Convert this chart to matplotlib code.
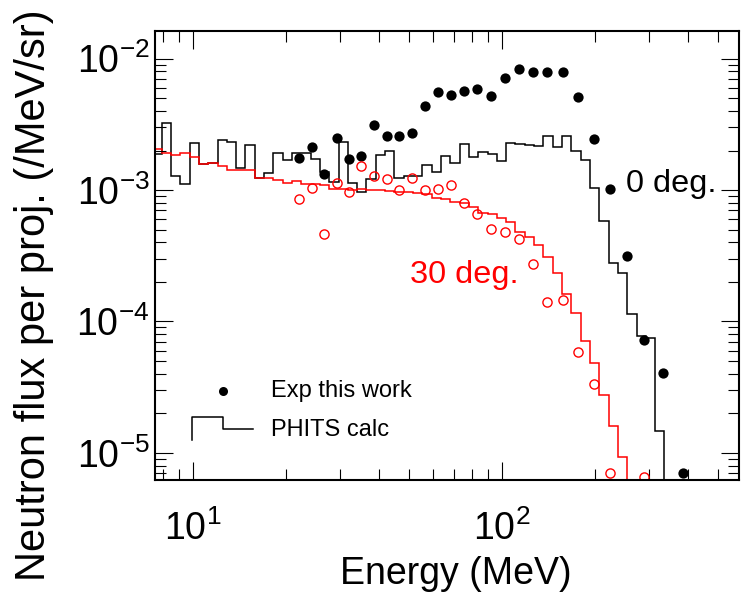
import numpy as np
import matplotlib
matplotlib.use("Agg")
import matplotlib.pyplot as plt
from matplotlib.ticker import LogLocator, NullFormatter

plt.rcParams['font.family'] = ['Liberation Sans', 'DejaVu Sans']
plt.rcParams['mathtext.fontset'] = 'custom'
plt.rcParams['mathtext.rm'] = 'Liberation Sans'
plt.rcParams['mathtext.it'] = 'Liberation Sans:italic'
plt.rcParams['mathtext.bf'] = 'Liberation Sans:bold'

# PHITS histogram bins (MeV), log spaced
bin_first = 7.389
bin_last = 335.54
n_edges = 56
hist_edges = np.geomspace(bin_first, bin_last, n_edges)

# PHITS calc, 0 deg (one value per bin)
phits_0deg = [
    1.883e-3, 3.258e-3, 1.291e-3, 1.103e-3, 2.271e-3, 1.571e-3, 1.600e-3, 2.406e-3,
    2.311e-3, 1.465e-3, 2.216e-3, 1.229e-3, 1.356e-3, 1.926e-3, 1.703e-3, 1.916e-3,
    1.910e-3, 1.715e-3, 1.373e-3, 1.152e-3, 2.323e-3, 1.142e-3, 9.67e-4, 1.208e-3,
    1.850e-3, 1.967e-3, 1.229e-3, 1.269e-3, 1.280e-3, 1.539e-3, 1.361e-3, 1.824e-3,
    1.616e-3, 2.223e-3, 1.786e-3, 1.943e-3, 1.866e-3, 1.651e-3, 2.283e-3, 2.223e-3,
    2.185e-3, 2.166e-3, 2.580e-3, 2.110e-3, 2.580e-3, 1.967e-3, 1.694e-3, 1.038e-3,
    5.77e-4, 2.787e-4, 2.339e-4, 1.147e-4, 7.76e-5, 7.55e-5, 1.468e-5,
]

# PHITS calc, 30 deg
phits_30deg = [
    2.037e-3, 1.916e-3, 1.834e-3, 1.899e-3, 1.786e-3, 1.571e-3, 1.608e-3, 1.531e-3,
    1.415e-3, 1.415e-3, 1.410e-3, 1.225e-3, 1.236e-3, 1.183e-3, 1.126e-3, 1.167e-3,
    1.122e-3, 1.122e-3, 1.093e-3, 1.011e-3, 1.019e-3, 1.002e-3, 1.011e-3, 9.93e-4,
    1.002e-3, 9.84e-4, 9.71e-4, 9.59e-4, 9.50e-4, 9.34e-4, 8.71e-4, 8.48e-4,
    8.16e-4, 7.91e-4, 7.37e-4, 6.69e-4, 6.52e-4, 6.13e-4, 5.72e-4, 4.80e-4,
    4.42e-4, 3.82e-4, 3.10e-4, 2.34e-4, 1.62e-4, 1.165e-4, 7.07e-5, 4.81e-5,
    2.76e-5, 1.60e-5, 9.26e-6,
]

# Exp this work, 0 deg
exp_energy_0 = [
    22.08, 24.22, 26.54, 29.18, 31.97, 35.10, 38.53, 42.36, 46.49, 51.13,
    56.42, 62.07, 68.39, 75.51, 83.31, 92.13, 102.4, 113.7, 126.3, 140.3,
    157.2, 176.6, 198.5, 223.7, 253.3, 288.8, 332.7, 384.5,
]
exp_flux_0 = [
    1.746e-3, 2.117e-3, 1.319e-3, 2.478e-3, 1.734e-3, 1.802e-3, 3.101e-3, 2.580e-3,
    2.580e-3, 2.720e-3, 4.389e-3, 5.597e-3, 5.292e-3, 5.696e-3, 5.899e-3, 5.200e-3,
    7.166e-3, 8.348e-3, 7.879e-3, 7.879e-3, 7.963e-3, 5.084e-3, 2.435e-3, 1.014e-3,
    3.150e-4, 7.23e-5, 4.08e-5, 6.99e-6,
]

# Exp this work, 30 deg
exp_energy_30 = [
    22.08, 24.22, 26.54, 29.18, 31.97, 35.10, 38.53, 42.36, 46.49, 51.13,
    56.42, 62.07, 68.39, 75.51, 83.31, 92.13, 102.4, 113.7, 126.3, 140.3,
    157.2, 176.6, 198.5, 223.7, 288.8,
]
exp_flux_30 = [
    8.56e-4, 1.032e-3, 4.61e-4, 1.138e-3, 9.72e-4, 1.526e-3, 1.285e-3, 1.208e-3,
    1.000e-3, 1.229e-3, 1.000e-3, 1.011e-3, 1.097e-3, 7.98e-4, 6.58e-4, 5.08e-4,
    4.81e-4, 4.24e-4, 2.74e-4, 1.40e-4, 1.457e-4, 5.83e-5, 3.34e-5, 6.99e-6,
    6.59e-6,
]

fig = plt.figure(figsize=(7.49, 5.97), dpi=100)
ax = fig.add_axes([0.2069, 0.196, 0.7804, 0.7526])

ax.stairs(phits_0deg, hist_edges, baseline=1e-8, color='black', lw=1.1)
ax.stairs(phits_30deg, hist_edges[:len(phits_30deg) + 1], baseline=1e-8,
          color='red', lw=1.1)
ax.plot(exp_energy_0, exp_flux_0, 'o', color='black', ms=7.4, mew=0)
ax.plot(exp_energy_30, exp_flux_30, 'o', mfc='none', mec='red', ms=6.6, mew=1.0)

ax.set_xscale('log')
ax.set_yscale('log')
ax.set_xlim(7.534, 587)
ax.set_ylim(6.22e-6, 0.01633)

ax.xaxis.set_minor_locator(LogLocator(base=10, subs=np.arange(2, 10), numticks=20))
ax.yaxis.set_minor_locator(LogLocator(base=10, subs=np.arange(2, 10), numticks=20))
ax.xaxis.set_minor_formatter(NullFormatter())
ax.yaxis.set_minor_formatter(NullFormatter())
ax.tick_params(which='both', direction='in', top=True, right=True, width=0.8)
ax.tick_params(which='major', length=13, labelsize=27)
ax.tick_params(which='minor', length=8)
ax.tick_params(axis='x', which='major', pad=22)
ax.tick_params(axis='y', which='major', pad=4)
for s in ax.spines.values():
    s.set_linewidth(1.5)

ax.set_xlabel('Energy (MeV)', fontsize=27)
ax.set_ylabel('Neutron flux per proj. (/MeV/sr)', fontsize=30)
ax.xaxis.set_label_coords(0.515, -0.169)
ax.yaxis.set_label_coords(-0.172, 0.412)

ax.text(0.8053, 0.6417, '0 deg.', transform=ax.transAxes, fontsize=23.4,
        color='black', ha='left', va='baseline')
ax.text(0.4363, 0.4391, '30 deg.', transform=ax.transAxes, fontsize=23.4,
        color='red', ha='left', va='baseline')

# legend drawn by hand: dot and step symbol
ax.plot([0.1158], [0.1981], 'o', color='black', ms=6.5, mew=0,
        transform=ax.transAxes, clip_on=False)
ax.plot([0.0638, 0.0638, 0.1158, 0.1158, 0.1672],
        [0.089, 0.1396, 0.1396, 0.1135, 0.1135],
        color='black', lw=1.1, transform=ax.transAxes)
ax.text(0.198, 0.1981, 'Exp this work', transform=ax.transAxes, fontsize=17,
        ha='left', va='center')
ax.text(0.198, 0.1113, 'PHITS calc', transform=ax.transAxes, fontsize=17,
        ha='left', va='center')

fig.savefig('out.png', dpi=100)
